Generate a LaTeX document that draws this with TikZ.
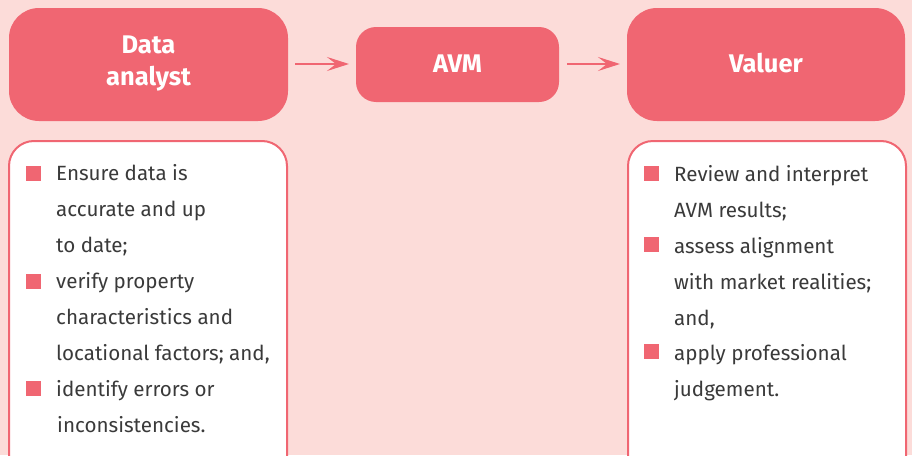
\documentclass[tikz,border=0pt]{standalone}
\usepackage{fontspec}
\setmainfont{Fira Sans}
\usetikzlibrary{arrows.meta}
\definecolor{bgpink}{HTML}{FCDCD9}
\definecolor{boxred}{HTML}{F06672}
\definecolor{txtgrey}{HTML}{3A3A3A}
\tikzset{
  head/.style={fill=boxred, draw=none, text=white, font=\fontsize{25.5}{32}\selectfont\bfseries, align=center},
  panel/.style={fill=white, draw=boxred, line width=2pt},
  bullet/.style={fill=boxred, draw=none, minimum size=15pt, inner sep=0pt, anchor=north west},
  itemtext/.style={text=txtgrey, font=\fontsize{20.6}{24}\selectfont, anchor=base west, inner sep=0pt},
  flow/.style={draw=boxred, line width=2.5pt, -{Stealth[length=22pt, width=14pt, inset=9pt]}}
}
\begin{document}
\begin{tikzpicture}[x=1pt, y=-1pt]
\useasboundingbox (0,0) rectangle (912,455);
\clip (0,0) rectangle (912,455);
\fill[bgpink] (0,0) rectangle (912,455);
% header boxes
\draw[head, rounded corners=30pt] (9,8) rectangle (288,121);
\node[head] (da) at (148.5,63.5) {Data\\analyst};
\draw[head, rounded corners=20pt] (356,27) rectangle (559,102);
\node[head] (avm) at (457.5,63.5) {AVM};
\draw[head, rounded corners=30pt] (627,8) rectangle (905,121);
\node[head] (val) at (766,63.5) {Valuer};
\coordinate (daR) at (295,64);
\coordinate (avmL) at (349,64);
\coordinate (avmR) at (567,64);
\coordinate (valL) at (620,64);
\draw[flow] (daR) -- (avmL);
\draw[flow] (avmR) -- (valL);
% panels
\draw[panel, rounded corners=25pt] (9,141) rectangle (287,490);
\draw[panel, rounded corners=25pt] (628,141) rectangle (906,490);
% left items
\node[bullet] (b1) at (26,166) {};
\node[itemtext] (l1) at (56,180) {Ensure data is};
\node[itemtext] (l2) at (56,216) {accurate and up};
\node[itemtext] (l3) at (56,252) {to date;};
\node[bullet] (b2) at (26,274) {};
\node[itemtext] (l4) at (56,288) {verify property};
\node[itemtext] (l5) at (56,324) {characteristics and};
\node[itemtext] (l6) at (56,360) {locational factors; and,};
\node[bullet] (b3) at (26,381) {};
\node[itemtext] (l7) at (56,396) {identify errors or};
\node[itemtext] (l8) at (57,432) {inconsistencies.};
% right items
\node[bullet] (c1) at (644,166) {};
\node[itemtext] (r1) at (674,181) {Review and interpret};
\node[itemtext] (r2) at (674,217) {AVM results;};
\node[bullet] (c2) at (644,237) {};
\node[itemtext] (r3) at (674,253) {assess alignment};
\node[itemtext] (r4) at (674,289) {with market realities;};
\node[itemtext] (r5) at (674,325) {and,};
\node[bullet] (c3) at (644,344) {};
\node[itemtext] (r6) at (674,360) {apply professional};
\node[itemtext] (r7) at (674,396) {judgement.};
\end{tikzpicture}
\end{document}
